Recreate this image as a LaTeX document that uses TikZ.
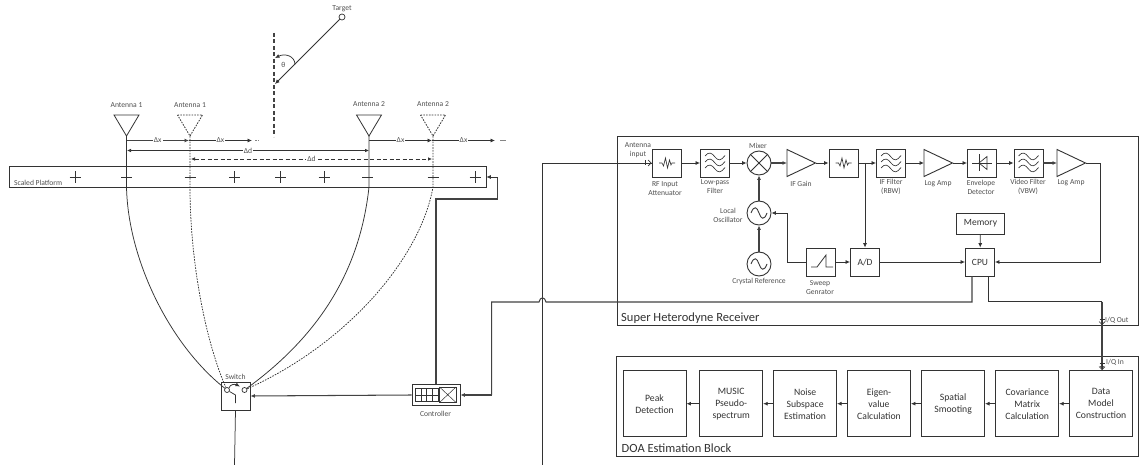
\documentclass[tikz,border=0pt]{standalone}
\usepackage{fontspec}
\setmainfont{Carlito}
\usetikzlibrary{arrows.meta,calc}
\definecolor{ink}{HTML}{333333}
\definecolor{txt}{HTML}{505050}
\tikzset{
  thin line/.style={draw=ink,line width=0.75pt},
  heavy/.style={draw=ink!92,line width=1.05pt},
  arr/.style={-{Latex[length=4.5pt,width=4pt]}},
  blk/.style={draw=ink,line width=0.9pt,fill=white,minimum width=29pt,minimum height=28pt,inner sep=0pt,text=ink,font=\fontsize{9.5}{10}\selectfont},
  doab/.style={blk,minimum width=63pt,minimum height=66pt,align=center,font=\fontsize{9.7}{12}\selectfont},
  lbl/.style={text=txt,font=\fontsize{7.6}{9}\selectfont,align=center,inner sep=0pt},
  title/.style={text=ink,font=\fontsize{12.5}{14}\selectfont,inner sep=0pt,anchor=west},
  circ/.style={circle,draw=ink,line width=0.9pt,fill=white,minimum size=24pt,inner sep=0pt},
  dash1/.style={dash pattern=on 1.6pt off 1.2pt},
  dash2/.style={dash pattern=on 4pt off 2.5pt},
}
\newcommand{\filtersym}[1]{\begin{scope}[shift={(#1)},thin line,line width=0.65pt]
 \foreach \d in {-6,0,6}{\draw (-10,\d-1) .. controls (-6,\d-6) and (-3,\d-4) .. (0,\d) .. controls (3,\d+4) and (6,\d+4) .. (10,\d-1.5);}
 \end{scope}}
\newcommand{\attsym}[1]{\begin{scope}[shift={(#1)},thin line,line width=0.65pt]
 \draw (-8,0) -- (-5,0) -- (-3.5,3) -- (-1.5,-5) -- (0.5,5) -- (2.5,-3) -- (4,2) -- (5,0) -- (8,0);
 \end{scope}}
\newcommand{\ampsym}[3]{\draw[thin line,line width=0.9pt,fill=white] (#1,#2-13.5) -- (#1+28.5,#2) -- (#1,#2+13.5) -- cycle;
 \coordinate (#3in) at (#1,#2); \coordinate (#3out) at (#1+28.5,#2);}
\newcommand{\sinesym}[2]{\begin{scope}[shift={(#1,#2)}]\draw[thin line,line width=0.85pt] (-8,0) .. controls (-5,-8) and (-2,-6) .. (0,0) .. controls (2,6) and (5,8) .. (8,0);\end{scope}}
\begin{document}
\begin{tikzpicture}[x=1pt,y=-1pt]
\useasboundingbox (0,0) rectangle (1139,465);
\fill[white] (0,0) rectangle (1139,465);
% ------ target
\node[circle,draw=ink,line width=0.7pt,minimum size=6pt,inner sep=0pt] (target) at (342,17) {};
\node[lbl] (targetl) at (342,8.5) {Target};
\coordinate (bore1) at (274,33);
\coordinate (bore2) at (274,137);
\draw[heavy,dash2] (bore1) -- (bore2);
\coordinate (hit) at (275,84);
\draw[thin line,arr] (target) -- (hit);
\coordinate (tha) at (295,64.5);
\coordinate (thb) at (275,58);
\draw[thin line,arr] (tha) .. controls (295,56) and (285,53) .. (thb);
\node[lbl] (thetal) at (283.5,65) {θ};
% ------ platform
\node[draw=ink,line width=0.8pt,minimum width=476.5pt,minimum height=21pt,inner sep=0pt] (plat) at (247.75,177) {};
\node[lbl,anchor=west] (platl) at (14,183) {Scaled Platform};
\foreach \n/\xx in {p1/75,p2/234.5,p3/280.5,p4/324,p5/475}{
 \draw[thin line,line width=0.8pt] (\xx-5.5,177) -- (\xx+5.5,177) (\xx,171.5) -- (\xx,182.5);}
% ------ switch and controller
\node[draw=ink,line width=0.9pt,fill=white,minimum width=29pt,minimum height=28pt,inner sep=0pt] (sw) at (235.5,396) {};
\node[lbl] (swl) at (235.5,376.5) {Switch};
\node[circle,draw=ink,line width=0.7pt,minimum size=5pt,inner sep=0pt] (swa) at (227,390) {};
\node[circle,draw=ink,line width=0.7pt,minimum size=5pt,inner sep=0pt] (swb) at (244.5,390) {};
\coordinate (swc) at (235.5,395);
\coordinate (swd) at (235.5,403);
\draw[thin line] (swa) -- (swc) -- (swd);
\coordinate (swe) at (229,388);
\coordinate (swf) at (240,386.5);
\draw[thin line,arr] (swe) .. controls (230,384) and (235,384) .. (swf);
\node[draw=ink,line width=0.9pt,fill=white,minimum width=48pt,minimum height=21.5pt,inner sep=0pt] (ctrl) at (436,395) {};
\node[lbl] (ctrll) at (435.5,413.5) {Controller};
\draw[thin line] (415.5,388.5) rectangle (438,401.5);
\foreach \xx in {421,426.5,432}{\draw[thin line,line width=0.5pt] (\xx,388.5) -- (\xx,401.5);}
\draw[thin line,line width=0.5pt] (415.5,395) -- (438,395);
\draw[thin line] (439.5,387) rectangle (456,402.5);
\draw[thin line,line width=0.5pt] (439.5,387) -- (456,402.5) (439.5,402.5) -- (456,387);
% ------ antennas
\foreach \n/\xx/\yy/\st in {a1/126.5/105.5/solid,a2/190/105.5/dash1,a3/369/104.5/solid,a4/433/104.5/dash1}{
 \coordinate (\n) at (\xx,136);
 \draw[thin line,line width=0.8pt,\st] (\xx-12.5,115) -- (\xx+12.5,115) -- (\n) -- cycle;
 \coordinate (\n b) at (\xx,187);
}
\node[lbl] (a1l) at (126.5,105.5) {Antenna 1};
\node[lbl] (a2l) at (190,105.5) {Antenna 1};
\node[lbl] (a3l) at (369,104.5) {Antenna 2};
\node[lbl] (a4l) at (433,104.5) {Antenna 2};
% ------ feeds
\draw[thin line] (a1) -- (a1b) .. controls (128,260) and (170,345) .. (swa);
\draw[thin line] (a3) -- (a3b) .. controls (360,270) and (320,335) .. (swb);
\draw[thin line,dash1] (a2) -- (a2b) .. controls (190,260) and (205,340) .. (swa);
\draw[thin line,dash1] (a4) -- (a4b) .. controls (420,260) and (345,345) .. (swb);
% dashes of the platform crossings
\foreach \xx in {126.5,190,367.5,433}{\draw[thin line,line width=0.8pt] (\xx-5.5,177) -- (\xx+5.5,177);}
% ------ spacing dimensions
\coordinate (dx1) at (126.5,140.5); \coordinate (dx2) at (189,140.5); \coordinate (dx3) at (252,140.5);
\coordinate (dx4) at (369,140.5); \coordinate (dx5) at (432,140.5); \coordinate (dx6) at (495,140.5);
\draw[heavy,arr] (dx1) -- node[lbl,fill=white,inner xsep=1pt] (dxl1) {Δx} (dx2);
\draw[thin line,arr] (dx2) -- node[lbl,fill=white,inner xsep=1pt] (dxl2) {Δx} (dx3);
\draw[thin line,arr] (dx4) -- node[lbl,fill=white,inner xsep=1pt] (dxl3) {Δx} (dx5);
\draw[thin line,arr] (dx5) -- node[lbl,fill=white,inner xsep=1pt] (dxl4) {Δx} (dx6);
\draw[draw=ink!60,line width=0.6pt,dash1] (255,140.5) -- (260,140.5);
\draw[draw=ink!60,line width=0.6pt] (500,140.5) -- (506,140.5);
\coordinate (dd1) at (127,150.5); \coordinate (dd2) at (369,150.5);
\coordinate (dd3) at (191,159); \coordinate (dd4) at (432,159);
\draw[thin line,{Latex[length=4pt,width=3.6pt]}-{Latex[length=4pt,width=3.6pt]}] (dd1) -- node[lbl,fill=white,inner xsep=1pt] (ddl1) {Δd} (dd2);
\draw[thin line,dash2,{Latex[length=4pt,width=3.6pt]}-{Latex[length=4pt,width=3.6pt]}] (dd3) -- node[lbl,fill=white,inner xsep=1pt] (ddl2) {Δd} (dd4);
% ------ receiver block
\node[draw=ink,line width=0.9pt,minimum width=521pt,minimum height=188.5pt,inner sep=0pt] (rx) at (877.5,231) {};
\node[title] (rxl) at (621,318) {Super Heterodyne Receiver};
\node[blk] (att) at (667,163) {};
\node[blk] (lpf) at (715,163) {};
\node[circ] (mix) at (759,163) {};
\node[blk] (att2) at (843.5,163) {};
\node[blk] (iff) at (891,163) {};
\node[blk] (env) at (982,163) {};
\node[blk] (vf) at (1028.5,163) {};
\node[circ] (lo) at (759,213) {};
\node[circ] (xo) at (759,264) {};
\node[blk] (sweep) at (821,262) {};
\node[blk] (ad) at (865,262) {A/D};
\node[blk] (cpu) at (980,262) {CPU};
\node[blk,minimum width=48pt,minimum height=21pt,font=\fontsize{9.5}{12}\selectfont] (mem) at (980.5,223.5) {Memory};
\ampsym{787}{163}{ifg}
\ampsym{924}{163}{la1}
\ampsym{1057}{163}{la2}
\attsym{667,163} \attsym{843.5,163}
\filtersym{715,163} \filtersym{891,163} \filtersym{1028.5,163}
\draw[thin line,line width=0.8pt] (mix.45) -- (mix.225) (mix.135) -- (mix.315);
\sinesym{759}{213} \sinesym{759}{264}
% sweep symbol
\draw[thin line,line width=0.8pt] (811,267) -- (817,267) -- (826,255) -- (826,267) -- (833,267);
% diode symbol
\draw[thin line,line width=0.7pt] (972,163) -- (992,163) (979,154.5) -- (979,171.5);
\draw[thin line,line width=0.7pt] (979,163) -- (987,156.5) -- (987,169.5) -- cycle;
% labels
\node[lbl] (antin) at (638,150) {Antenna\\input};
\node[lbl] at (665,188.5) {RF Input\\Attenuator};
\node[lbl] at (715,187) {Low-pass\\Filter};
\node[lbl] at (758,145.5) {Mixer};
\node[lbl] at (801,183.5) {IF Gain};
\node[lbl] at (728,215) {Local\\Oscillator};
\node[lbl] at (759,281.5) {Crystal Reference};
\node[lbl] at (820,287.5) {Sweep\\Genrator};
\node[lbl] at (891,187) {IF Filter\\(RBW)};
\node[lbl] at (938,183.5) {Log Amp};
\node[lbl] at (981,187) {Envelope\\Detector};
\node[lbl] at (1028,187) {Video Filter\\(VBW)};
\node[lbl] at (1071,182.5) {Log Amp};
\node[lbl,anchor=west] at (1105,320) {I/Q Out};
% receiver connectors
\coordinate (feedb) at (542.5,465);
\coordinate (feedc) at (542.5,163);
\draw[thin line] (feedb) -- (feedc) -- (att.west);
\draw[thin line,line width=0.6pt,-{Straight Barb[length=3pt,width=6pt]}] (645,163) -- (651.5,163);
\draw[thin line,line width=0.6pt] (645,160.5) -- (645,165.5);
\draw[thin line,arr] (att) -- (lpf);
\draw[thin line,arr] (lpf) -- (mix);
\draw[heavy,arr] (mix) -- (ifgin);
\draw[thin line,arr] (ifgout) -- (att2);
\draw[thin line,arr] (att2) -- (iff);
\draw[thin line,arr] (iff) -- (la1in);
\draw[thin line,arr] (la1out) -- (env);
\draw[thin line,arr] (env) -- (vf);
\draw[heavy,arr] (vf) -- (la2in);
\coordinate (la2r) at (1100.5,163);
\draw[thin line,arr] (la2out) -- (la2r) |- (cpu.east);
\draw[heavy,arr] (lo) -- (mix);
\draw[heavy,arr] (xo) -- (lo);
\coordinate (tap) at (865,163);
\draw[thin line,arr] (tap) -- (ad);
\draw[thin line,arr] (sweep) -- (ad);
\coordinate (swl2) at (787.5,262);
\draw[thin line,arr] (sweep.west) -- (swl2) |- (lo.east);
\draw[thin line,arr] (ad) -- (cpu);
\draw[thin line,arr] (mem) -- (cpu);
% CPU to controller
\coordinate (c1) at (972,276);
\coordinate (c2) at (972,302);
\coordinate (c3) at (546,302);
\coordinate (c4) at (539,302);
\coordinate (c5) at (491.7,302);
\coordinate (c6) at (491.7,395);
\draw[heavy] (c1) -- (c2) -- (c3) .. controls (545,296.5) and (540,296.5) .. (c4) -- (c5) -- (c6);
\draw[heavy,arr] (c6) -- (ctrl.east);
\draw[heavy,arr] (ctrl.west) -- (sw.east);
% controller to platform
\coordinate (k2) at (436,199);
\coordinate (k3) at (497.5,199);
\coordinate (k4) at (497.5,177);
\draw[heavy] (ctrl.north) -- (k2) -- (k3) -- (k4);
\draw[thin line,arr] (k4) -- (plat.east);
% switch output
\coordinate (swout) at (234.5,465);
\draw[thin line] (sw.south) -- (swout);
% ------ DOA
\node[draw=ink,line width=0.9pt,minimum width=521.5pt,minimum height=99.5pt,inner sep=0pt] (doa) at (877.5,406.5) {};
\node[title] (doal) at (621.5,448.5) {DOA Estimation Block};
\node[doab] (d1) at (1101,403.7) {Data\\Model\\Construction};
\node[doab] (d2) at (1027.2,403.7) {Covariance\\Matrix\\Calculation};
\node[doab] (d3) at (953.1,403.7) {Spatial\\Smooting};
\node[doab] (d4) at (879,403.7) {Eigen-\\value\\Calculation};
\node[doab] (d5) at (805.1,403.7) {Noise\\Subspace\\Estimation};
\node[doab] (d6) at (731.2,403.7) {MUSIC\\Pseudo-\\spectrum};
\node[doab] (d7) at (654.5,403.7) {Peak\\Detection};
\foreach \a/\b in {d1/d2,d2/d3,d3/d4,d4/d5,d5/d6,d6/d7}{\draw[thin line,arr] (\a) -- (\b);}
\coordinate (q1) at (988,276);
\coordinate (q2) at (988,301.5);
\coordinate (q3) at (1102,301.5);
\coordinate (q4) at (1102,370.6);
\draw[thin line] (q1) -- (q2) -- (q3);
\draw[heavy,arr] (q3) -- (q4);
\draw[thin line,line width=0.6pt,-{Straight Barb[length=3pt,width=6pt]}] (1102,319) -- (1102,325);
\draw[thin line,line width=0.6pt] (1099.5,319) -- (1104.5,319);
\draw[thin line,line width=0.6pt,-{Straight Barb[length=3pt,width=6pt]}] (1102,363) -- (1102,370);
\draw[thin line,line width=0.6pt] (1099.5,363) -- (1104.5,363);
\node[lbl,anchor=west] at (1106,362) {I/Q In};
\end{tikzpicture}
\end{document}
